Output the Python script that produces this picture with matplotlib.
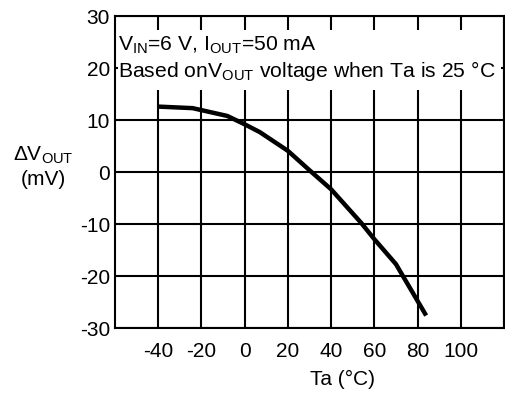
import matplotlib
matplotlib.use("Agg")
import matplotlib.pyplot as plt
from matplotlib.patches import Rectangle

plt.rcParams['font.family'] = ['Liberation Sans', 'DejaVu Sans']
plt.rcParams['mathtext.fontset'] = 'custom'
plt.rcParams['mathtext.rm'] = 'Liberation Sans'
plt.rcParams['axes.unicode_minus'] = False

# curve
ta = [-40, -24, -8, 0, 7, 20, 31, 40, 54, 60, 70, 84]
dvout = [12.6, 12.3, 10.8, 9.2, 7.7, 4.1, 0.0, -3.3, -9.8, -12.9, -17.7, -27.6]

x_ticks = [-40, -20, 0, 20, 40, 60, 80, 100]
x_grid = [-40, -20, 0, 20, 40, 60, 80, 100, 120]
y_ticks = [-30, -20, -10, 0, 10, 20, 30]

FS = 15

fig = plt.figure(figsize=(5.06, 3.94), dpi=100)
ax = fig.add_axes([0.227, 0.1675, 0.769, 0.7915])
ax.set_xlim(-60, 120)
ax.set_ylim(-30, 30)

for x in x_grid:
    ax.axvline(x, color='black', lw=1.5, zorder=1)
for y in y_ticks:
    ax.axhline(y, color='black', lw=1.5, zorder=1)

# white box behind the condition text
ax.add_patch(Rectangle((-58.5, 15.8), 177, 11.5, facecolor='white',
                       edgecolor='none', zorder=2))

ax.plot(ta, dvout, color='black', lw=3.2, zorder=3, solid_capstyle='butt')

ax.text(-58.7, 23.3, r'$\mathrm{V_{IN}}$=6 V, $\mathrm{I_{OUT}}$=50 mA',
        fontsize=15.2, zorder=4, va='baseline')
ax.text(-58.7, 18.3, r'Based on$\mathrm{V_{OUT}}$ voltage when Ta is 25 °C',
        fontsize=15.2, zorder=4, va='baseline')

ax.set_xticks(x_ticks)
ax.set_xticklabels([str(v) for v in x_ticks])
ax.set_yticks(y_ticks)
ax.tick_params(length=0, labelsize=FS)
ax.tick_params(axis='x', pad=10)
ax.tick_params(axis='y', pad=3.5)

for s in ax.spines.values():
    s.set_linewidth(1.5)

ax.set_xlabel('Ta (°C)', fontsize=FS)
ax.xaxis.set_label_coords(0.584, -0.135)
ax.set_ylabel(r'$\Delta\mathrm{V_{OUT}}$' + '\n(mV)', fontsize=FS, rotation=0,
              ha='center', va='center', linespacing=1.3)
ax.yaxis.set_label_coords(-0.185, 0.516)

fig.savefig('out.png', dpi=100)
